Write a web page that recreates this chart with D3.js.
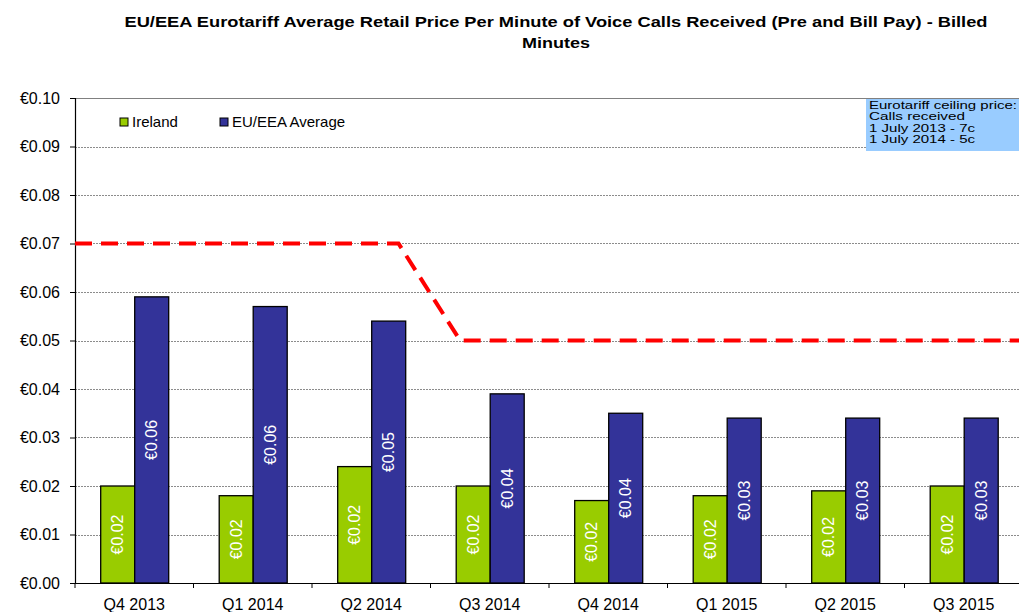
<!DOCTYPE html>
<html>
<head>
<meta charset="utf-8">
<script src="https://cdn.jsdelivr.net/npm/d3@7"></script>
<style>
    body { margin: 0; background: #fff; }
    svg { display: block; font-family: Arial, "Liberation Sans", sans-serif; }
</style>
</head>
<body>
<div id="chart"></div>
<script>
// Chart data
const quarters = ["Q4 2013", "Q1 2014", "Q2 2014", "Q3 2014", "Q4 2014", "Q1 2015", "Q2 2015", "Q3 2015"];
const seriesNames = ["Ireland", "EU/EEA Average"];
const ireland = [0.020, 0.018, 0.024, 0.020, 0.017, 0.018, 0.019, 0.020];
const euAverage = [0.059, 0.057, 0.054, 0.039, 0.035, 0.034, 0.034, 0.034];
const yTicks = [0, 0.01, 0.02, 0.03, 0.04, 0.05, 0.06, 0.07, 0.08, 0.09, 0.10];
// ceiling price line: [position in category units, price]
const ceilingPoints = [[0, 0.07], [2.73, 0.07], [3.25, 0.05], [8, 0.05]];
const noteLines = ["Eurotariff ceiling price:", "Calls received", "1 July 2013 - 7c", "1 July 2014 - 5c"];
const noteWidths = [148, 96, 106, 106];
const titleLines = ["EU/EEA Eurotariff Average Retail Price Per Minute of Voice Calls Received (Pre and Bill Pay) - Billed", "Minutes"];
const titleWidths = [863, 68];

const width = 1019;
const height = 612;
const plot = { left: 75, right: 1023, top: 98, bottom: 583 };
const colors = ["#99cc00", "#333399"];

const svg = d3.select("#chart").append("svg")
    .attr("width", width)
    .attr("height", height);

const x0 = d3.scaleBand()
    .domain(quarters)
    .range([plot.left, plot.right])
    .padding(0);

const x1 = d3.scaleBand()
    .domain(seriesNames)
    .range([25.7, 93.7])
    .padding(0);

const xPos = d3.scaleLinear()
    .domain([0, quarters.length])
    .range([plot.left, plot.right]);

const y = d3.scaleLinear()
    .domain([0, 0.1])
    .range([plot.bottom, plot.top]);

// Title (the original is stretched sideways a little)
svg.append("g")
    .selectAll("text")
    .data(titleLines)
    .enter()
    .append("text")
    .attr("x", 556)
    .attr("y", (d, i) => 27 + i * 21)
    .attr("text-anchor", "middle")
    .attr("textLength", (d, i) => titleWidths[i])
    .attr("lengthAdjust", "spacingAndGlyphs")
    .style("font-weight", "bold")
    .style("font-size", "15px")
    .text(d => d);

// Gridlines
svg.append("g")
    .selectAll("line")
    .data(yTicks.filter(d => d > 0 && d < 0.1))
    .enter()
    .append("line")
    .attr("x1", plot.left)
    .attr("x2", width)
    .attr("y1", d => Math.round(y(d)) + 0.5)
    .attr("y2", d => Math.round(y(d)) + 0.5)
    .attr("stroke", "#8c8c8c")
    .attr("stroke-dasharray", "2,1");

// top border of plot
svg.append("line")
    .attr("x1", plot.left)
    .attr("x2", width)
    .attr("y1", plot.top + 0.5)
    .attr("y2", plot.top + 0.5)
    .attr("stroke", "#808080");

// Y axis
const yAxis = svg.append("g")
    .attr("transform", `translate(${plot.left},0)`)
    .call(d3.axisLeft(y).tickValues(yTicks).tickSize(5).tickPadding(10)
        .tickFormat(d => "€" + d3.format(".2f")(d)));
yAxis.select(".domain").attr("stroke", "#000").attr("stroke-width", 1.2);
yAxis.selectAll(".tick line").attr("stroke", "#000");
yAxis.selectAll("text")
    .style("font-size", "16px")
    .attr("fill", "#000")
    .attr("font-family", "Arial, 'Liberation Sans', sans-serif");

// X axis
const xAxis = svg.append("g")
    .attr("transform", `translate(0,${plot.bottom})`)
    .call(d3.axisBottom(x0).tickSize(0).tickPadding(16));
xAxis.select(".domain").attr("stroke", "#000").attr("stroke-width", 1.2);
xAxis.selectAll("text")
    .style("font-size", "16px")
    .attr("fill", "#000")
    .attr("font-family", "Arial, 'Liberation Sans', sans-serif");

svg.append("g")
    .selectAll("line")
    .data(d3.range(quarters.length + 1))
    .enter()
    .append("line")
    .attr("x1", d => xPos(d))
    .attr("x2", d => xPos(d))
    .attr("y1", plot.bottom)
    .attr("y2", plot.bottom + 5)
    .attr("stroke", "#000");

// Bars
const rows = quarters.map((q, i) => ({ quarter: q, values: [ireland[i], euAverage[i]] }));

const groups = svg.append("g")
    .selectAll("g")
    .data(rows)
    .enter()
    .append("g")
    .attr("transform", d => `translate(${x0(d.quarter)},0)`);

groups.selectAll("rect")
    .data(d => d.values.map((v, i) => ({ name: seriesNames[i], value: v, idx: i })))
    .enter()
    .append("rect")
    .attr("x", d => x1(d.name))
    .attr("y", d => y(d.value))
    .attr("width", x1.bandwidth())
    .attr("height", d => y(0) - y(d.value))
    .attr("fill", d => colors[d.idx])
    .attr("stroke", "#000")
    .attr("stroke-width", 1.3);

groups.selectAll("text.val")
    .data(d => d.values.map((v, i) => ({ name: seriesNames[i], value: v })))
    .enter()
    .append("text")
    .attr("class", "val")
    .attr("transform", d => `translate(${x1(d.name) + x1.bandwidth() / 2},${(y(d.value) + y(0)) / 2}) rotate(-90)`)
    .attr("text-anchor", "middle")
    .attr("dy", "0.35em")
    .attr("fill", "#fff")
    .style("font-size", "16px")
    .text(d => "€" + d3.format(".2f")(d.value));

// Ceiling price line
const line = d3.line()
    .x(d => xPos(d[0]))
    .y(d => y(d[1]));

svg.append("path")
    .datum(ceilingPoints)
    .attr("d", line)
    .attr("fill", "none")
    .attr("stroke", "#ff0000")
    .attr("stroke-width", 4)
    .attr("stroke-dasharray", "17,9");

// Legend
const legend = svg.append("g")
    .selectAll("g")
    .data(seriesNames)
    .enter()
    .append("g")
    .attr("transform", (d, i) => `translate(${120 + i * 100},118)`);

legend.append("rect")
    .attr("width", 8)
    .attr("height", 8)
    .attr("fill", (d, i) => colors[i])
    .attr("stroke", "#000")
    .attr("stroke-width", 1);

legend.append("text")
    .attr("x", 12)
    .attr("y", 8.5)
    .style("font-size", "15px")
    .text(d => d);

// Note box
svg.append("rect")
    .attr("x", 866)
    .attr("y", 99)
    .attr("width", width - 866)
    .attr("height", 52)
    .attr("fill", "#99ccff");

svg.append("g")
    .selectAll("text")
    .data(noteLines)
    .enter()
    .append("text")
    .attr("x", 869)
    .attr("y", (d, i) => 109 + i * 11.4)
    .attr("textLength", (d, i) => noteWidths[i])
    .attr("lengthAdjust", "spacingAndGlyphs")
    .style("font-size", "11px")
    .text(d => d);
</script>
</body>
</html>
